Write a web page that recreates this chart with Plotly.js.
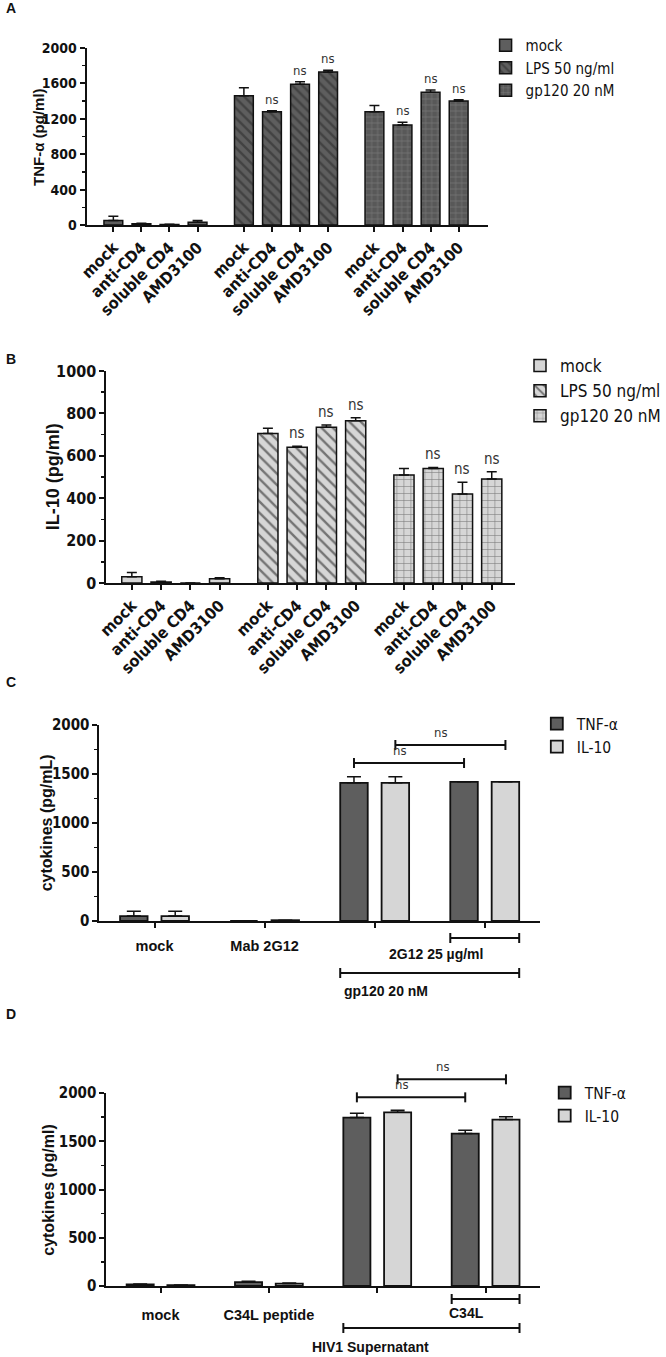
<!DOCTYPE html>
<html><head><meta charset="utf-8">
<script src="https://cdn.plot.ly/plotly-3.0.1.min.js"></script>
<style>html,body{margin:0;padding:0;background:#fff}#chart{width:666px;height:1357px}</style>
</head><body><div id="chart"></div>
<script>
// ---------------- DATA ----------------
const treatmentsAB = ['mock', 'anti-CD4', 'soluble CD4', 'AMD3100'];
const stimuliAB = ['mock', 'LPS 50 ng/ml', 'gp120 20 nM'];

// Panel A: TNF-α (pg/ml)
const tnfA_mock = [50, 15, 5, 30];
const tnfA_mockErr = [50, 5, 3, 20];
const tnfA_lps = [1460, 1280, 1590, 1730];
const tnfA_lpsErr = [90, 10, 30, 20];
const tnfA_gp120 = [1280, 1130, 1500, 1400];
const tnfA_gp120Err = [70, 30, 25, 15];
const nsA_mock = ['', '', '', ''];
const nsA_lps = ['', 'ns', 'ns', 'ns'];
const nsA_gp120 = ['', 'ns', 'ns', 'ns'];

// Panel B: IL-10 (pg/ml)
const il10B_mock = [30, 5, 0, 20];
const il10B_mockErr = [20, 3, 0, 5];
const il10B_lps = [705, 640, 735, 765];
const il10B_lpsErr = [25, 5, 10, 15];
const il10B_gp120 = [510, 540, 420, 490];
const il10B_gp120Err = [30, 5, 55, 35];
const nsB_mock = ['', '', '', ''];
const nsB_lps = ['', 'ns', 'ns', 'ns'];
const nsB_gp120 = ['', 'ns', 'ns', 'ns'];

// Panel C: cytokines (pg/mL)
const catsC = ['mock', 'Mab 2G12', 'gp120', 'gp120 + 2G12'];
const tickC = ['mock', 'Mab 2G12', '', ''];
const tnfC = [50, 0, 1410, 1420];
const tnfCErr = [50, 0, 62, 0];
const il10C = [50, 8, 1410, 1420];
const il10CErr = [50, 0, 62, 0];

// Panel D: cytokines (pg/ml)
const catsD = ['mock', 'C34L peptide', 'HIV1 Supernatant', 'HIV1 Supernatant + C34L'];
const tickD = ['mock', 'C34L peptide', '', ''];
const tnfD = [17, 40, 1745, 1580];
const tnfDErr = [4, 8, 45, 35];
const il10D = [8, 25, 1800, 1725];
const il10DErr = [3, 6, 20, 30];

const seriesCD = ['TNF-α', 'IL-10'];
const yTitles = ['TNF-α (pg/ml)', 'IL-10 (pg/ml)', 'cytokines (pg/mL)', 'cytokines (pg/ml)'];

// ---------------- STYLE ----------------
const W = 666, H = 1357;
const FN = '"Liberation Sans Narrow", "Arial Narrow", "DejaVu Sans Condensed", sans-serif';
const FS = '"Liberation Sans", Arial, sans-serif';
const INK = '#111';
const DARK = '#5e5e5e', LIGHT = '#d6d6d6';
const GAP = 4.65;          // group offset (in bar slots) for panels A, B
const SHIFT = 0.188, HALFW = 0.125; // grouped bar offsets for panels C, D

// plot boxes in pixels: [left, right, top, bottom]
const boxA = [88, 495, 48, 225];
const boxB = [108, 523, 371, 583];
const boxC = [101, 548, 725, 921];
const boxD = [108, 548, 1093, 1286];

const pos = (g) => treatmentsAB.map((_, j) => g * GAP + j);
const zeros = (a) => a.map(() => 0);

function errUp(e, w) {
  return {type: 'data', symmetric: false, array: e, arrayminus: zeros(e), color: INK, thickness: 1.5, width: w, visible: true};
}

const stylesA = [
  {color: DARK},
  {color: DARK, pattern: {shape: '\\', fgcolor: '#262626', fillmode: 'overlay', size: 7, solidity: 0.35}},
  {color: '#585858', pattern: {shape: '+', fgcolor: '#a0a0a0', fillmode: 'overlay', size: 6, solidity: 0.18}}
];
const stylesB = [
  {color: LIGHT},
  {color: LIGHT, pattern: {shape: '\\', fgcolor: '#111', fillmode: 'overlay', size: 8, solidity: 0.3}},
  {color: LIGHT, pattern: {shape: '+', fgcolor: '#222', fillmode: 'overlay', size: 7, solidity: 0.16}}
];

const traces = [];
const annotations = [];
const shapes = [];

function addPanelAB(valsList, errList, nsList, styles, xa, ya, legendId, width, nsSize) {
  valsList.forEach((vals, g) => {
    const xs = pos(g);
    const st = styles[g];
    const marker = {color: st.color, line: {color: INK, width: 1.5}};
    if (st.pattern) marker.pattern = st.pattern;
    traces.push({
      type: 'bar', x: xs, y: vals, name: stimuliAB[g], width: width,
      xaxis: xa, yaxis: ya, legend: legendId, marker: marker,
      error_y: errUp(errList[g], 5), hoverinfo: 'skip'
    });
    nsList[g].forEach((t, j) => {
      if (!t) return;
      annotations.push({xref: xa, yref: ya, x: xs[j], y: vals[j] + errList[g][j], text: t,
        showarrow: false, yanchor: 'bottom', yshift: 2, font: {family: FN, size: nsSize, color: '#333'}});
    });
  });
}

addPanelAB([tnfA_mock, tnfA_lps, tnfA_gp120], [tnfA_mockErr, tnfA_lpsErr, tnfA_gp120Err],
  [nsA_mock, nsA_lps, nsA_gp120], stylesA, 'x', 'y', 'legend', 0.67, 13);
addPanelAB([il10B_mock, il10B_lps, il10B_gp120], [il10B_mockErr, il10B_lpsErr, il10B_gp120Err],
  [nsB_mock, nsB_lps, nsB_gp120], stylesB, 'x2', 'y2', 'legend2', 0.69, 15);

function addPanelCD(cats, tnf, tnfE, il, ilE, xa, ya, legendId) {
  [[tnf, tnfE, DARK, -SHIFT - HALFW], [il, ilE, LIGHT, SHIFT - HALFW]].forEach((s, k) => {
    traces.push({
      type: 'bar', x: cats, y: s[0], name: seriesCD[k], width: 2 * HALFW, offset: s[3],
      xaxis: xa, yaxis: ya, legend: legendId,
      marker: {color: s[2], line: {color: INK, width: 1.8}},
      error_y: errUp(s[1], 7), hoverinfo: 'skip'
    });
  });
}
addPanelCD(catsC, tnfC, tnfCErr, il10C, il10CErr, 'x3', 'y3', 'legend3');
addPanelCD(catsD, tnfD, tnfDErr, il10D, il10DErr, 'x4', 'y4', 'legend4');

// brackets for panels C and D (domain coordinates so they are not clipped)
const domX = (p) => (p + 0.5) / 4;
function sigBracket(ax, box, p0, p1, val, ymax, label) {
  const xr = 'x' + ax + ' domain', yr = 'y' + ax + ' domain';
  const ph = box[3] - box[2];
  const y = val / ymax;
  const ln = {color: INK, width: 2};
  shapes.push({type: 'line', xref: xr, yref: yr, x0: domX(p0), x1: domX(p1), y0: y, y1: y, line: ln});
  [p0, p1].forEach(p => shapes.push({type: 'line', xref: xr, yref: yr, ysizemode: 'pixel', yanchor: y,
    x0: domX(p), x1: domX(p), y0: -5, y1: 5, line: ln}));
  annotations.push({xref: xr, yref: yr, x: domX((p0 + p1) / 2), y: y + 3 / ph, yanchor: 'bottom', text: label, showarrow: false,
    font: {family: FN, size: 13, color: '#333'}});
}
function underBracket(ax, box, p0, p1, dy, labelDy, label) {
  const xr = 'x' + ax + ' domain', yr = 'y' + ax + ' domain';
  const ph = box[3] - box[2];
  const ln = {color: INK, width: 2};
  shapes.push({type: 'line', xref: xr, yref: yr, ysizemode: 'pixel', yanchor: 0,
    x0: domX(p0), x1: domX(p1), y0: -dy, y1: -dy, line: ln});
  [p0, p1].forEach(p => shapes.push({type: 'line', xref: xr, yref: yr, ysizemode: 'pixel', yanchor: 0,
    x0: domX(p), x1: domX(p), y0: -dy - 5, y1: -dy + 5, line: ln}));
  annotations.push({xref: xr, yref: yr, x: domX((p0 + p1) / 2), y: -labelDy / ph, yanchor: 'middle', text: label, showarrow: false,
    font: {family: FS, size: 14, color: INK, weight: 'bold'}});
}
// Panel C
sigBracket(3, boxC, 2 - SHIFT, 3 - SHIFT, 1612, 2000, 'ns');
sigBracket(3, boxC, 2 + SHIFT, 3 + SHIFT, 1796, 2000, 'ns');
underBracket(3, boxC, 3 - SHIFT - HALFW, 3 + SHIFT + HALFW, 17, 33, '2G12 25 µg/ml');
underBracket(3, boxC, 2 - SHIFT - HALFW, 3 + SHIFT + HALFW, 52, 70, 'gp120 20 nM');
// Panel D
sigBracket(4, boxD, 2 - SHIFT, 3 - SHIFT, 1955, 2000, 'ns');
sigBracket(4, boxD, 2 + SHIFT, 3 + SHIFT, 2142, 2000, 'ns');
underBracket(4, boxD, 3 - SHIFT - HALFW, 3 + SHIFT + HALFW, 13, 27, 'C34L');
underBracket(4, boxD, 2 - SHIFT - HALFW, 3 + SHIFT + HALFW, 42, 61, 'HIV1 Supernatant');

// panel letters
[['A', 8], ['B', 359], ['C', 682], ['D', 1014]].forEach(([t, yy]) => {
  annotations.push({xref: 'paper', yref: 'paper', x: 4 / W, y: 1 - yy / H, xanchor: 'left', yanchor: 'middle',
    text: t, showarrow: false, font: {family: FS, size: 14, color: INK, weight: 'bold'}});
});

// y axis titles (rotated), placed left of each plot box
[[boxA, 49, 15], [boxB, 54, 18], [boxC, 54, 16], [boxD, 59, 16]].forEach(([b, off, fs], i) => {
  annotations.push({xref: 'paper', yref: 'paper', x: (b[0] - off) / W, y: 1 - (b[2] + b[3]) / 2 / H,
    xanchor: 'center', yanchor: 'middle', textangle: -90, text: yTitles[i], showarrow: false,
    font: {family: FS, size: fs, color: INK, weight: 'bold'}});
});

// ---------------- LAYOUT ----------------
const baseAxis = {showline: true, linecolor: INK, linewidth: 2, ticks: 'outside', ticklen: 5, tickwidth: 2,
  tickcolor: INK, showgrid: false, zeroline: false, fixedrange: true, automargin: false};
const minor = (d) => ({dtick: d, ticks: 'outside', ticklen: 3, tickwidth: 1.5, tickcolor: INK, showgrid: false});
const dxd = (b) => [b[0] / W, b[1] / W];
const dyd = (b) => [1 - b[3] / H, 1 - b[2] / H];

const allPosAB = [0, 1, 2].flatMap(g => pos(g));
const allLabAB = [0, 1, 2].flatMap(() => treatmentsAB);

const layout = {
  width: W, height: H, margin: {l: 0, r: 0, t: 0, b: 0},
  paper_bgcolor: '#fff', plot_bgcolor: 'rgba(0,0,0,0)', barmode: 'overlay',
  font: {family: FS, color: INK},
  xaxis: Object.assign({}, baseAxis, {domain: dxd(boxA), anchor: 'y', range: [-0.95, 13.33],
    tickmode: 'array', tickvals: allPosAB, ticktext: allLabAB, tickangle: -45,
    tickfont: {family: FN, size: 16, color: INK, weight: 'bold'}}),
  yaxis: Object.assign({}, baseAxis, {domain: dyd(boxA), anchor: 'x', range: [0, 2000], dtick: 400,
    tickfont: {family: FN, size: 14, color: INK, weight: 'bold'}, minor: minor(200)}),
  xaxis2: Object.assign({}, baseAxis, {domain: dxd(boxB), anchor: 'y2', range: [-0.87, 13.1],
    tickmode: 'array', tickvals: allPosAB, ticktext: allLabAB, tickangle: -45,
    tickfont: {family: FN, size: 16, color: INK, weight: 'bold'}}),
  yaxis2: Object.assign({}, baseAxis, {domain: dyd(boxB), anchor: 'x2', range: [0, 1000], dtick: 200,
    tickfont: {family: FN, size: 16, color: INK, weight: 'bold'}, minor: minor(100)}),
  xaxis3: Object.assign({}, baseAxis, {domain: dxd(boxC), anchor: 'y3', type: 'category',
    categoryorder: 'array', categoryarray: catsC, range: [-0.5, 3.5],
    tickmode: 'array', tickvals: catsC, ticktext: tickC, ticklabelstandoff: 6,
    tickfont: {family: FS, size: 14.5, color: INK, weight: 'bold'}}),
  yaxis3: Object.assign({}, baseAxis, {domain: dyd(boxC), anchor: 'x3', range: [0, 2000], dtick: 500,
    tickfont: {family: FN, size: 15, color: INK, weight: 'bold'}, minor: minor(250)}),
  xaxis4: Object.assign({}, baseAxis, {domain: dxd(boxD), anchor: 'y4', type: 'category',
    categoryorder: 'array', categoryarray: catsD, range: [-0.5, 3.5],
    tickmode: 'array', tickvals: catsD, ticktext: tickD, ticklabelstandoff: 10,
    tickfont: {family: FS, size: 14.5, color: INK, weight: 'bold'}}),
  yaxis4: Object.assign({}, baseAxis, {domain: dyd(boxD), anchor: 'x4', range: [0, 2000], dtick: 500,
    tickfont: {family: FN, size: 15, color: INK, weight: 'bold'}, minor: minor(250)}),
  legend: {x: 493 / W, y: 1 - 29 / H, xanchor: 'left', yanchor: 'top', bgcolor: 'rgba(0,0,0,0)',
    font: {family: FN, size: 15, color: INK}, tracegroupgap: 0},
  legend2: {x: 528 / W, y: 1 - 348 / H, xanchor: 'left', yanchor: 'top', bgcolor: 'rgba(0,0,0,0)',
    font: {family: FN, size: 17, color: INK}, tracegroupgap: 0},
  legend3: {x: 545 / W, y: 1 - 707 / H, xanchor: 'left', yanchor: 'top', bgcolor: 'rgba(0,0,0,0)',
    font: {family: FN, size: 15.5, color: INK}, tracegroupgap: 0},
  legend4: {x: 553 / W, y: 1 - 1076 / H, xanchor: 'left', yanchor: 'top', bgcolor: 'rgba(0,0,0,0)',
    font: {family: FN, size: 15.5, color: INK}, tracegroupgap: 0},
  shapes: shapes,
  annotations: annotations
};

Plotly.newPlot('chart', traces, layout, {staticPlot: true, displayModeBar: false});
</script></body></html>
